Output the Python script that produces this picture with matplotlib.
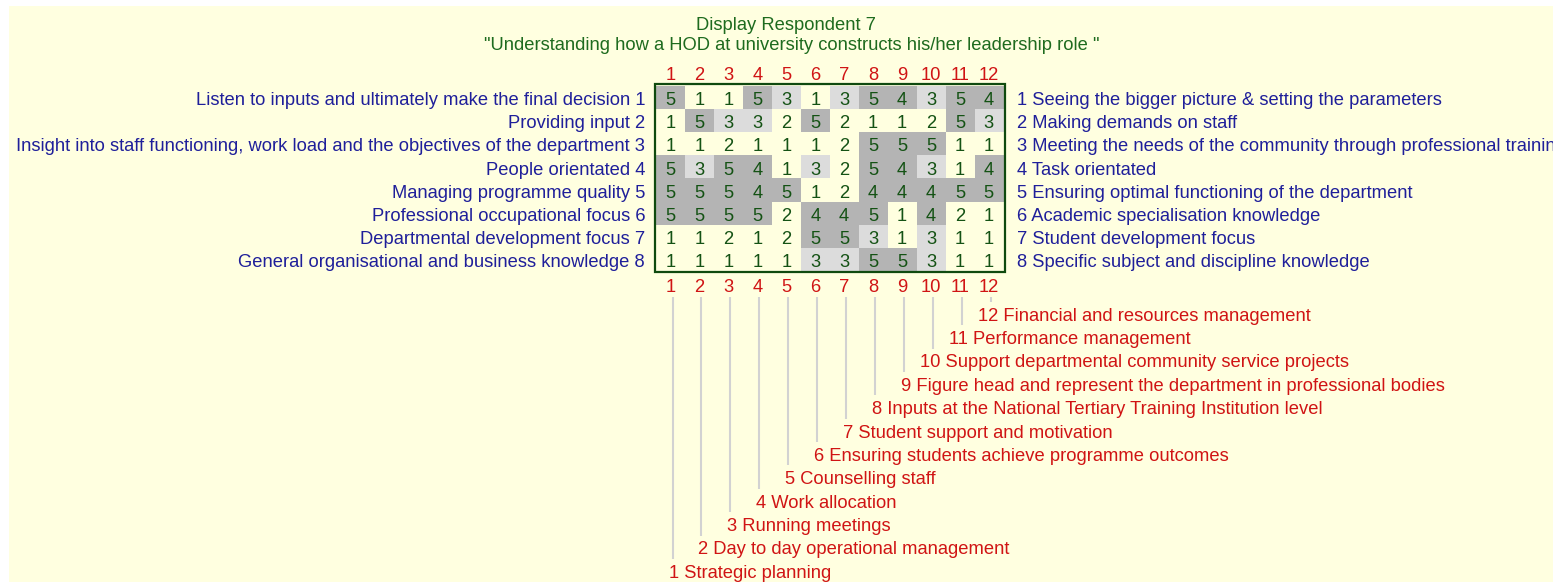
import matplotlib
matplotlib.use("Agg")
import matplotlib.pyplot as plt
from matplotlib.colors import ListedColormap
from matplotlib.patches import Rectangle
import numpy as np

title_line1 = "Display Respondent 7"
title_line2 = '"Understanding how a HOD at university constructs his/her leadership role "'

left_poles = [
    "Listen to inputs and ultimately make the final decision",
    "Providing input",
    "Insight into staff functioning, work load and the objectives of the department",
    "People orientated",
    "Managing programme quality",
    "Professional occupational focus",
    "Departmental development focus",
    "General organisational and business knowledge",
]
right_poles = [
    "Seeing the bigger picture & setting the parameters",
    "Making demands on staff",
    "Meeting the needs of the community through professional training",
    "Task orientated",
    "Ensuring optimal functioning of the department",
    "Academic specialisation knowledge",
    "Student development focus",
    "Specific subject and discipline knowledge",
]
elements = [
    "Strategic planning",
    "Day to day operational management",
    "Running meetings",
    "Work allocation",
    "Counselling staff",
    "Ensuring students achieve programme outcomes",
    "Student support and motivation",
    "Inputs at the National Tertiary Training Institution level",
    "Figure head and represent the department in professional bodies",
    "Support departmental community service projects",
    "Performance management",
    "Financial and resources management",
]
ratings = [
    [5, 1, 1, 5, 3, 1, 3, 5, 4, 3, 5, 4],
    [1, 5, 3, 3, 2, 5, 2, 1, 1, 2, 5, 3],
    [1, 1, 2, 1, 1, 1, 2, 5, 5, 5, 1, 1],
    [5, 3, 5, 4, 1, 3, 2, 5, 4, 3, 1, 4],
    [5, 5, 5, 4, 5, 1, 2, 4, 4, 4, 5, 5],
    [5, 5, 5, 5, 2, 4, 4, 5, 1, 4, 2, 1],
    [1, 1, 2, 1, 2, 5, 5, 3, 1, 3, 1, 1],
    [1, 1, 1, 1, 1, 3, 3, 5, 5, 3, 1, 1],
]

BG = "#ffffe0"
LIGHT = "#dcdcdc"
DARK = "#b4b4b4"
GREEN = "#145214"
TITLE_GREEN = "#1e6b1e"
NAVY = "#1f1f9a"
RED = "#d01414"
FONT = "Liberation Sans"
FS = 13.2

plt.rcParams["font.family"] = [FONT, "DejaVu Sans"]

W, H = 1553, 582
fig = plt.figure(figsize=(W / 100, H / 100), dpi=100)
fig.patch.set_facecolor("white")
fig.patches.append(Rectangle((9 / W, 0), 1 - 9 / W, 1 - 6 / H, transform=fig.transFigure,
                             facecolor=BG, edgecolor="none", zorder=-5))

ax = fig.add_axes([0, 0, 1, 1], zorder=2)
ax.set_facecolor("none")
ax.axis("off")
colw, rowh = 28.94, 23.07
x0px, y0px = 670.5, 97.8
ax.set_xlim(1 - x0px / colw, 1 + (W - x0px) / colw)
ax.set_ylim(1 + (H - y0px) / rowh, 1 - y0px / rowh)

data = np.array(ratings)
nrows, ncols = data.shape
cmap = ListedColormap([BG, BG, LIGHT, DARK, DARK])
ax.imshow(data, cmap=cmap, vmin=0.5, vmax=5.5, extent=(0.5, ncols + 0.5, nrows + 0.5, 0.5),
          aspect="auto", interpolation="nearest", zorder=1)
ax.add_patch(Rectangle((0.45, 0.4), ncols + 0.1, nrows + 0.15, facecolor="none",
                       edgecolor="#0f4a0f", lw=1.6, zorder=3))

dy = 0.13
for r in range(nrows):
    for c in range(ncols):
        ax.text(c + 1, r + 1 + dy, str(data[r, c]), ha="center", va="center",
                color=GREEN, fontsize=FS, zorder=4)

for r in range(nrows):
    ax.text(0.12, r + 1 + dy, f"{left_poles[r]} {r + 1}", ha="right", va="center",
            color=NAVY, fontsize=FS)
    ax.text(12.97, r + 1 + dy, f"{r + 1} {right_poles[r]}", ha="left", va="center",
            color=NAVY, fontsize=FS)

for c in range(ncols):
    ax.text(c + 1, 0.03, str(c + 1), ha="center", va="center", color=RED, fontsize=FS)
    ax.text(c + 1, 9.22, str(c + 1), ha="center", va="center", color=RED, fontsize=FS)

for c in range(ncols):
    k = c + 1
    ly = 10.47 + (ncols - k) * 1.0126
    lx = k + 0.07
    ax.plot([lx, lx], [9.63, ly - 0.62], color="#d2d2d2", lw=1.5, solid_capstyle="butt", zorder=2)
    nd = len(str(k))
    ax.text(lx - 0.12 - 0.335 * (nd - 1), ly, f"{k} {elements[c]}", ha="left", va="center",
            color=RED, fontsize=FS)

fig.text(786 / W, 1 - 26 / H, title_line1, ha="center", va="center", color=TITLE_GREEN, fontsize=FS)
fig.text(792 / W, 1 - 46 / H, title_line2, ha="center", va="center", color=TITLE_GREEN, fontsize=FS)

fig.savefig("out.png", dpi=100)
